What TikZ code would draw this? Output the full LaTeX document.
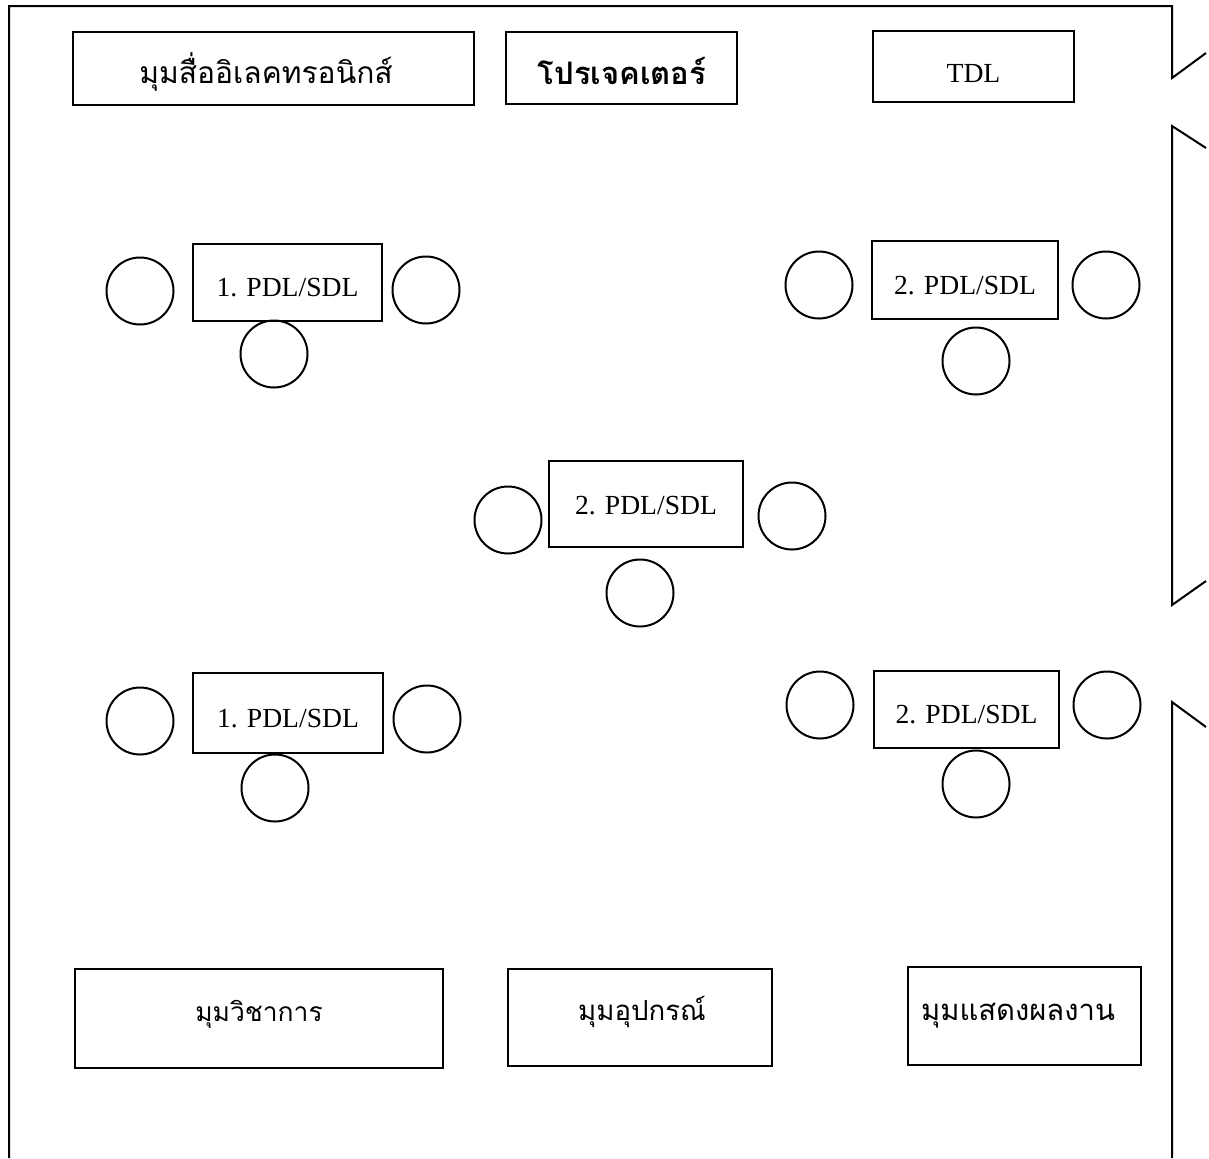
\documentclass[tikz,border=0pt]{standalone}
\usepackage{fontspec}
\setmainfont{Liberation Serif}
\newfontfamily\thaifont[Script=Thai]{Loma}
\begin{document}
\begin{tikzpicture}[x=0.5pt,y=-0.5pt,
  wall/.style={line width=1pt,line join=miter},
  area/.style={draw,line width=1pt,rectangle,inner sep=0pt},
  desk/.style={draw,line width=1pt,rectangle,inner sep=0pt,
    font=\fontsize{13.8}{15}\selectfont,text height=14.1pt,text depth=0pt},
  seat/.style={draw,line width=1pt,circle,inner sep=0pt,minimum size=33.5pt},
  thai/.style={font=\thaifont\fontsize{#1}{17}\selectfont,inner sep=0pt},
  thai/.default=15]
\useasboundingbox (0,0) rectangle (1209,1158);

% room walls, open at the bottom, with three door swings on the right
\draw[wall] (9,1158) -- (9,6) -- (1172,6) -- (1172,78) -- (1206,53);
\draw[wall] (1206,148) -- (1172,126) -- (1172,605) -- (1206,581);
\draw[wall] (1206,727) -- (1172,702) -- (1172,1158);

% corners along the front wall
\node[area,minimum width=200.5pt,minimum height=36.5pt] (media) at (273.5,68.5) {};
\node[thai] (mediat) at (266,72) {มุมสื่ออิเลคทรอนิกส์};
\node[area,minimum width=115.5pt,minimum height=36pt] (proj) at (621.5,68) {};
\node[thai,font=\thaifont\bfseries\fontsize{15.5}{17}\selectfont] (projt) at (622,71) {โปรเจคเตอร์};
\node[area,font=\fontsize{13.8}{15}\selectfont,text height=15.6pt,text depth=0pt,
      minimum width=100.5pt,minimum height=35.5pt] (tdl) at (973.5,66.5) {TDL};

% group tables with their seats
\node[desk,minimum width=94.5pt,minimum height=38.5pt] (t1) at (287.5,282.5) {1. PDL/SDL};
\node[seat] (t1l) at (140,291) {};
\node[seat] (t1r) at (426,290) {};
\node[seat] (t1b) at (274,354) {};

\node[desk,minimum width=93pt,minimum height=39pt] (t2) at (965,280) {2. PDL/SDL};
\node[seat] (t2l) at (819,285) {};
\node[seat] (t2r) at (1106,285) {};
\node[seat] (t2b) at (976,361) {};

\node[desk,text height=10.1pt,minimum width=97pt,minimum height=43pt] (t3) at (646,504) {2. PDL/SDL};
\node[seat] (t3l) at (508,520) {};
\node[seat] (t3r) at (792,516) {};
\node[seat] (t3b) at (640,593) {};

\node[desk,minimum width=95pt,minimum height=40pt] (t4) at (288,713) {1. PDL/SDL};
\node[seat] (t4l) at (140,721) {};
\node[seat] (t4r) at (427,719) {};
\node[seat] (t4b) at (275,788) {};

\node[desk,minimum width=92.5pt,minimum height=38.5pt] (t5) at (966.5,709.5) {2. PDL/SDL};
\node[seat] (t5l) at (820,705) {};
\node[seat] (t5r) at (1107,705) {};
\node[seat] (t5b) at (976,784) {};

% corners along the back
\node[area,minimum width=184pt,minimum height=49.5pt] (acad) at (259,1018.5) {};
\node[thai=13.2] (acadt) at (259,1014) {มุมวิชาการ};
\node[area,minimum width=132pt,minimum height=48.5pt] (equip) at (640,1017.5) {};
\node[thai=13.8] (equipt) at (642,1012) {มุมอุปกรณ์};
\node[area,minimum width=116.5pt,minimum height=49pt] (show) at (1024.5,1016) {};
\node[thai=14.6] (showt) at (1018,1016) {มุมแสดงผลงาน};
\end{tikzpicture}
\end{document}
